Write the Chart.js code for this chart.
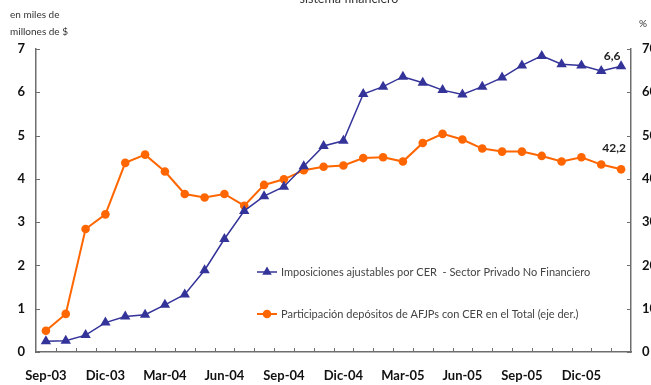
<!DOCTYPE html>
<html>
<head>
<meta charset="utf-8">
<script src="https://cdn.jsdelivr.net/npm/chart.js@4/dist/chart.umd.min.js"></script>
<style>
  html, body { margin: 0; padding: 0; background: #ffffff; }
  #wrap { width: 651px; height: 385px; position: relative; }
</style>
</head>
<body>
<div id="wrap"><canvas id="grafico" width="651" height="385"></canvas></div>
<script>
// Meses (sep-2003 a feb-2006)
const meses = ['Sep-03','Oct-03','Nov-03','Dic-03','Ene-04','Feb-04','Mar-04','Abr-04','May-04','Jun-04',
  'Jul-04','Ago-04','Sep-04','Oct-04','Nov-04','Dic-04','Ene-05','Feb-05','Mar-05','Abr-05',
  'May-05','Jun-05','Jul-05','Ago-05','Sep-05','Oct-05','Nov-05','Dic-05','Ene-06','Feb-06'];

// Imposiciones ajustables por CER - SPNF (miles de millones de $)
const imposicionesCER = [0.25,0.26,0.39,0.68,0.82,0.86,1.09,1.33,1.89,2.61,
  3.26,3.60,3.82,4.29,4.76,4.88,5.96,6.13,6.36,6.22,
  6.05,5.95,6.13,6.34,6.62,6.84,6.65,6.62,6.49,6.6];

// Participación de depósitos de AFJPs con CER en el total (%)
const participacionAFJP = [4.9,8.8,28.4,31.8,43.7,45.6,41.7,36.5,35.7,36.5,
  33.8,38.6,39.9,42.0,42.8,43.1,44.8,45.0,44.0,48.3,
  50.4,49.1,47.0,46.3,46.3,45.3,44.0,45.0,43.3,42.2];

const ticksMiles = [0,1,2,3,4,5,6,7];
const ticksPorcentaje = [0,10,20,30,40,50,60,70];

const nombresSeries = [
  'Imposiciones ajustables por CER  - Sector Privado No Financiero',
  'Participación depósitos de AFJPs con CER en el Total (eje der.)'
];

const AZUL = '#333399';
const NARANJA = '#ff6600';
const EJE = '#6e6e6e';
const FUENTE = 'Lato, "Open Sans", sans-serif';

function formatoComa(v) { return v.toFixed(1).replace('.', ','); }

function trianguloEn(ctx, x, y, r) {
  ctx.beginPath();
  ctx.moveTo(x, y - r);
  ctx.lineTo(x + r * Math.sin(2 * Math.PI / 3), y - r * Math.cos(2 * Math.PI / 3));
  ctx.lineTo(x + r * Math.sin(4 * Math.PI / 3), y - r * Math.cos(4 * Math.PI / 3));
  ctx.closePath();
  ctx.fill();
}

const decoracion = {
  id: 'decoracion',
  afterDraw(chart) {
    const ctx = chart.ctx;
    const area = chart.chartArea;
    const sx = chart.scales.x, sy = chart.scales.y, sy2 = chart.scales.y2;
    ctx.save();

    // marcas de escala hacia adentro
    ctx.strokeStyle = EJE;
    ctx.lineWidth = 1;
    ctx.beginPath();
    for (let i = 1; i < meses.length; i++) {
      const x = Math.round(sx.getPixelForValue(i - 0.5)) + 0.5;
      ctx.moveTo(x, area.bottom);
      ctx.lineTo(x, area.bottom - 4);
    }
    ticksMiles.forEach(v => {
      const y = Math.round(sy.getPixelForValue(v)) + 0.5;
      ctx.moveTo(area.left, y);
      ctx.lineTo(area.left + 4, y);
    });
    ticksPorcentaje.forEach(v => {
      const y = Math.round(sy2.getPixelForValue(v)) + 0.5;
      ctx.moveTo(area.right, y);
      ctx.lineTo(area.right - 4, y);
    });
    ctx.stroke();

    // leyenda
    const filas = [
      { y: 272, color: AZUL, tipo: 'tri' },
      { y: 314, color: NARANJA, tipo: 'circ' }
    ];
    ctx.font = '11px ' + FUENTE;
    ctx.textBaseline = 'middle';
    ctx.textAlign = 'left';
    filas.forEach((f, i) => {
      ctx.strokeStyle = f.color;
      ctx.fillStyle = f.color;
      ctx.lineWidth = i === 0 ? 1.5 : 2;
      ctx.beginPath();
      ctx.moveTo(257, f.y);
      ctx.lineTo(277, f.y);
      ctx.stroke();
      if (f.tipo === 'tri') {
        trianguloEn(ctx, 267, f.y, 5.5);
      } else {
        ctx.beginPath();
        ctx.arc(267, f.y, 4.3, 0, Math.PI * 2);
        ctx.fill();
      }
      ctx.fillStyle = '#444444';
      ctx.fillText(nombresSeries[i], 281, f.y);
    });

    // rótulos del último dato
    ctx.font = 'bold 12px ' + FUENTE;
    ctx.fillStyle = '#222222';
    ctx.textAlign = 'center';
    const m0 = chart.getDatasetMeta(0).data;
    const m1 = chart.getDatasetMeta(1).data;
    const p0 = m0[m0.length - 1], p1 = m1[m1.length - 1];
    ctx.fillText(formatoComa(imposicionesCER[imposicionesCER.length - 1]), p0.x - 9, p0.y - 10);
    ctx.fillText(formatoComa(participacionAFJP[participacionAFJP.length - 1]), p1.x - 7, p1.y - 21);

    // títulos de ejes
    ctx.font = '10px ' + FUENTE;
    ctx.fillStyle = '#333333';
    ctx.textAlign = 'left';
    ctx.fillText('en miles de', 10, 15);
    ctx.fillText('millones de $', 10, 32);
    ctx.fillText('%', 639, 24);
    ctx.textAlign = 'center';
    ctx.textBaseline = 'alphabetic';
    ctx.font = '12.5px ' + FUENTE;
    ctx.fillText('sistema financiero', 349, 3);

    ctx.restore();
  }
};

new Chart(document.getElementById('grafico'), {
  type: 'line',
  data: {
    labels: meses,
    datasets: [
      {
        label: nombresSeries[0],
        data: imposicionesCER,
        yAxisID: 'y',
        borderColor: AZUL,
        backgroundColor: AZUL,
        borderWidth: 1.5,
        pointStyle: 'triangle',
        pointRadius: 6,
        pointBorderWidth: 0,
        tension: 0
      },
      {
        label: nombresSeries[1],
        data: participacionAFJP,
        yAxisID: 'y2',
        borderColor: NARANJA,
        backgroundColor: NARANJA,
        borderWidth: 2,
        pointStyle: 'circle',
        pointRadius: 4.3,
        pointBorderWidth: 0,
        tension: 0
      }
    ]
  },
  options: {
    responsive: false,
    animation: false,
    devicePixelRatio: 1,
    layout: { padding: { top: 49, left: 0, right: 0, bottom: 0 } },
    plugins: { legend: { display: false }, tooltip: { enabled: false }, title: { display: false } },
    scales: {
      x: {
        type: 'category',
        offset: true,
        grid: { display: false, drawTicks: false },
        border: { display: true, color: EJE, width: 1.5 },
        ticks: {
          autoSkip: false,
          maxRotation: 0,
          padding: 16,
          color: '#111111',
          font: { family: FUENTE, weight: 'bold', size: 13 },
          callback: (v, i) => (i % 3 === 0 ? meses[i] : '')
        },
        afterFit: s => { s.height = 33; }
      },
      y: {
        position: 'left',
        min: 0, max: 7,
        grid: { display: false, drawTicks: false },
        border: { display: true, color: EJE, width: 1.5 },
        afterBuildTicks: s => { s.ticks = ticksMiles.map(v => ({ value: v })); },
        ticks: {
          padding: 11,
          color: '#111111',
          font: { family: FUENTE, weight: 'bold', size: 13 }
        },
        afterFit: s => { s.width = 36; }
      },
      y2: {
        position: 'right',
        min: 0, max: 70,
        grid: { display: false, drawTicks: false },
        border: { display: true, color: EJE, width: 1.5 },
        afterBuildTicks: s => { s.ticks = ticksPorcentaje.map(v => ({ value: v })); },
        ticks: {
          padding: 11,
          color: '#111111',
          font: { family: FUENTE, weight: 'bold', size: 13 }
        },
        afterFit: s => { s.width = 20; }
      }
    }
  },
  plugins: [decoracion]
});
</script>
</body>
</html>
